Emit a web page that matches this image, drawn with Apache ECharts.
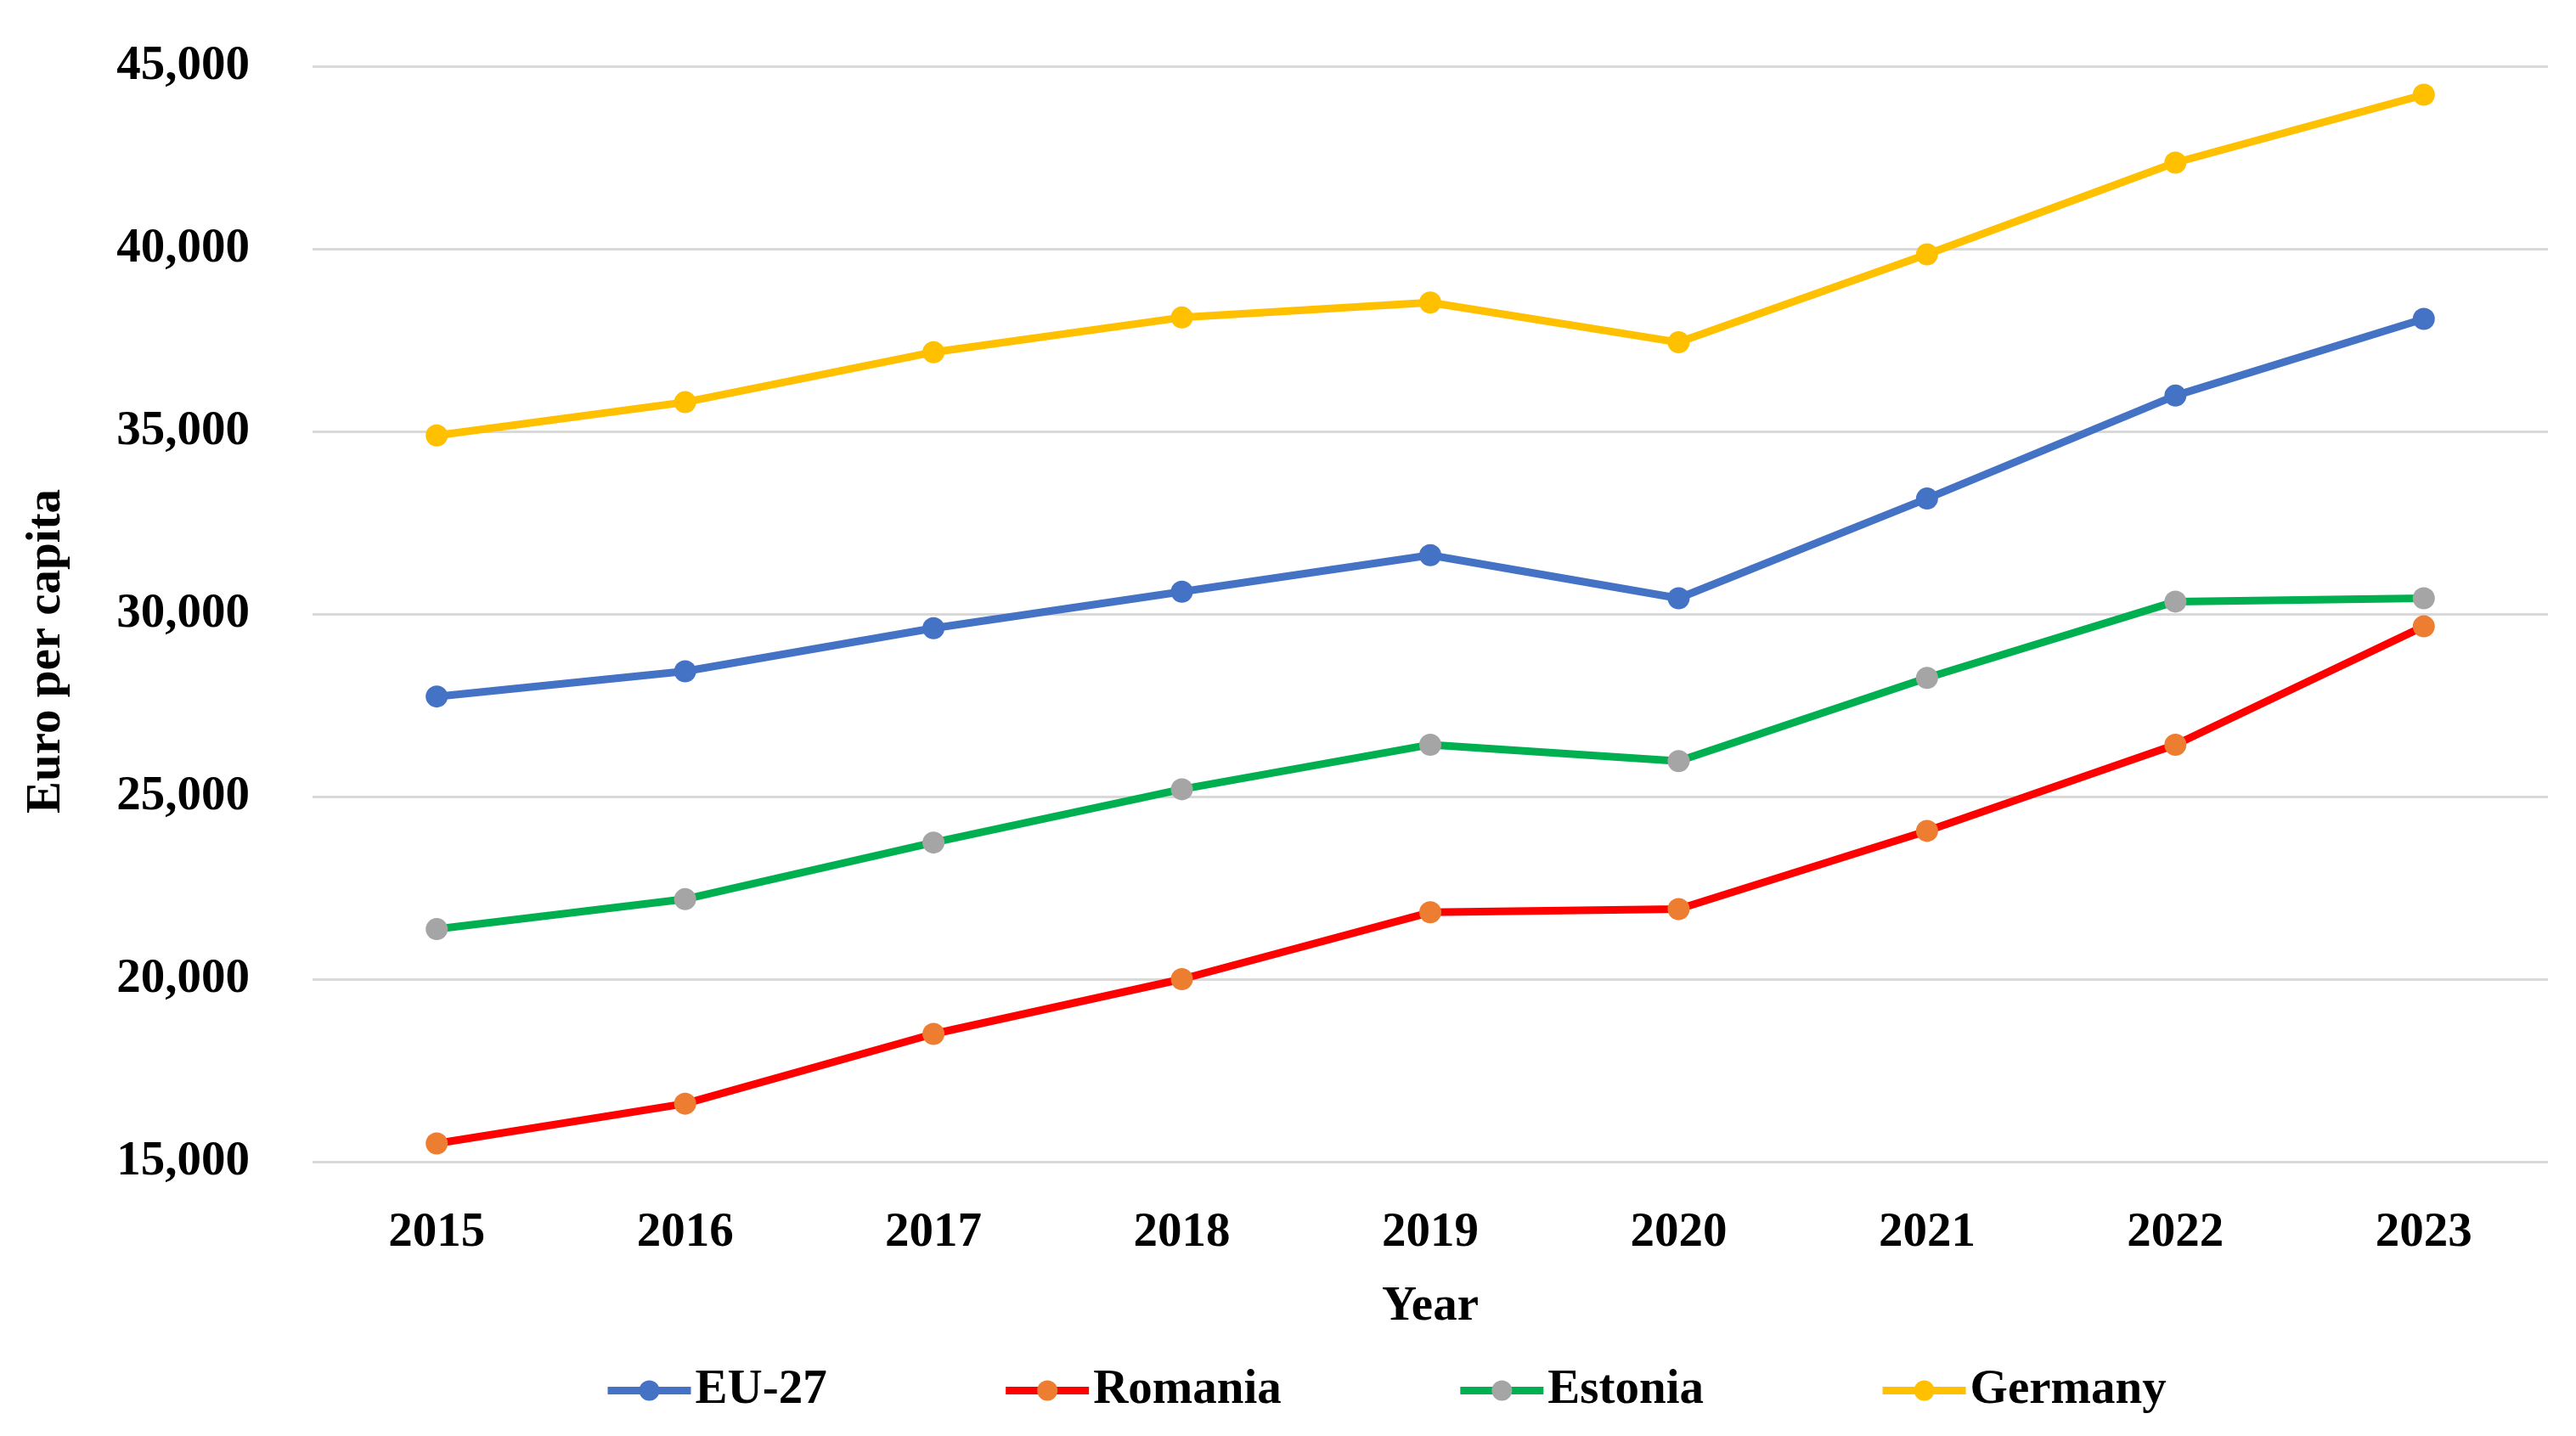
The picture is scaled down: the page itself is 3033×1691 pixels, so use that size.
<!DOCTYPE html>
<html>
<head>
<meta charset="utf-8">
<script src="https://cdn.jsdelivr.net/npm/echarts@6/dist/echarts.min.js"></script>
<style>
html,body{margin:0;padding:0;background:#fff;}
#chart{width:3033px;height:1691px;}
</style>
</head>
<body>
<div id="chart"></div>
<script>
const years = ['2015','2016','2017','2018','2019','2020','2021','2022','2023'];
const eu27 = [27740, 28430, 29610, 30610, 31610, 30430, 33160, 35980, 38080];
const romania = [15500, 16590, 18500, 20000, 21830, 21920, 24060, 26420, 29660];
const estonia = [21370, 22190, 23740, 25200, 26420, 25970, 28250, 30340, 30430];
const germany = [34890, 35800, 37170, 38120, 38530, 37440, 39850, 42360, 44220];
const yMin = 15000, yMax = 45000, yStep = 5000;

const FONT = '"Liberation Serif", "DejaVu Serif", serif';
const FS = 57;

function mk(name, data, lineColor, markerColor) {
  return {
    name: name,
    type: 'line',
    data: data,
    symbol: 'circle',
    symbolSize: 26,
    showAllSymbol: true,
    lineStyle: { color: lineColor, width: 9 },
    itemStyle: { color: markerColor },
    emphasis: { disabled: true },
    z: 3
  };
}

const chart = echarts.init(document.getElementById('chart'));
chart.setOption({
  animation: false,
  backgroundColor: '#fff',
  grid: { left: 368, right: 33, top: 78, bottom: 323, containLabel: false },
  xAxis: {
    type: 'category',
    data: years,
    boundaryGap: true,
    axisLine: { show: false },
    axisTick: { show: false },
    axisLabel: { color: '#000', fontFamily: FONT, fontWeight: 'bold', fontSize: FS, margin: 56 },
    name: 'Year',
    nameLocation: 'middle',
    nameGap: 143,
    nameTextStyle: { color: '#000', fontFamily: FONT, fontWeight: 'bold', fontSize: FS }
  },
  yAxis: {
    type: 'value',
    min: yMin,
    max: yMax,
    interval: yStep,
    axisLine: { show: false },
    axisTick: { show: false },
    splitLine: { show: true, lineStyle: { color: '#D9D9D9', width: 3 } },
    axisLabel: {
      color: '#000', fontFamily: FONT, fontWeight: 'bold', fontSize: FS, margin: 74,
      formatter: v => v.toLocaleString('en-US')
    }
  },
  legend: {
    left: 706,
    top: 1604,
    itemWidth: 98,
    itemHeight: 30,
    itemGap: 206,
    lineStyle: { width: 9 },
    textStyle: { color: '#000', fontFamily: FONT, fontWeight: 'bold', fontSize: FS, padding: [0,0,0,0] },
    data: ['EU-27', 'Romania', 'Estonia', 'Germany']
  },
  graphic: [{
    type: 'text',
    rotation: Math.PI / 2,
    x: 55,
    y: 767,
    style: {
      text: 'Euro per capita',
      fill: '#000',
      font: 'bold ' + FS + 'px ' + FONT,
      align: 'center',
      verticalAlign: 'middle'
    }
  }],
  series: [
    mk('EU-27', eu27, '#4472C4', '#4472C4'),
    mk('Romania', romania, '#FF0000', '#ED7D31'),
    mk('Estonia', estonia, '#00B050', '#A5A5A5'),
    mk('Germany', germany, '#FFC000', '#FFC000')
  ]
});
</script>
</body>
</html>
